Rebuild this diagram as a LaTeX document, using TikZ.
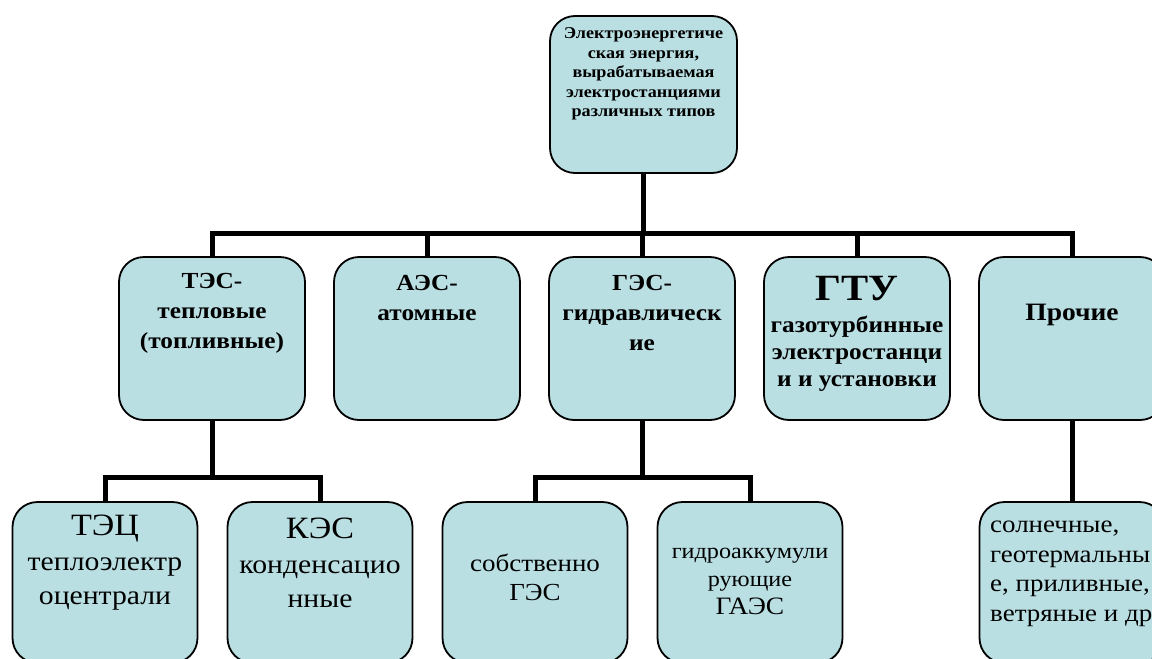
\documentclass[tikz,border=0pt]{standalone}
\usepackage{fontspec}
\setmainfont{Liberation Serif}[FakeStretch=1.1]
\usetikzlibrary{calc}
\definecolor{boxfill}{RGB}{185,223,227}
\tikzset{
  box/.style={draw=black, line width=1.8pt, fill=boxfill, rounded corners=25pt, inner sep=0pt},
  conn/.style={draw=black, line width=5pt},
  txt/.style={align=center, inner sep=0pt},
  bt/.style={font=\bfseries\fontsize{23}{30}\selectfont},
  rt/.style={font=\fontsize{27}{34.5}\selectfont}
}
\begin{document}
\begin{tikzpicture}[x=1pt,y=-1pt]
\useasboundingbox (0,0) rectangle (1152,659);
\clip (0,0) rectangle (1152,659);
% boxes
\node[box, minimum width=187pt, minimum height=157pt] (top) at (643.5,94.5) {};
\foreach \n/\x in {tes/212, aes/427, ges/642, gtu/857, pro/1072}
  \node[box, minimum width=186pt, minimum height=163pt] (\n) at (\x,338.5) {};
\foreach \n/\x in {tec/105, kes/320, sges/535, gaes/750, oth/1072}
  \node[box, minimum width=185pt, minimum height=161pt] (\n) at (\x,582.5) {};
% connectors
\coordinate (bus) at ($(tes.north)+(0,-23)$);
\draw[conn] (top.south) -- (top.south |- bus);
\draw[conn] (tes.north) -- (bus) -| (pro.north);
\draw[conn] (aes.north) -- (aes.north |- bus);
\draw[conn] (ges.north) -- (ges.north |- bus);
\draw[conn] (gtu.north) -- (gtu.north |- bus);
\coordinate (b2) at ($(tec.north)+(0,-24)$);
\coordinate (b3) at ($(sges.north)+(0,-24)$);
\draw[conn] (tes.south) -- (tes.south |- b2);
\draw[conn] (tec.north) -- (b2) -| (kes.north);
\draw[conn] (ges.south) -- (ges.south |- b3);
\draw[conn] (sges.north) -- (b3) -| (gaes.north);
\draw[conn] (pro.south) -- (oth.north);
% texts
\node[txt, font=\bfseries\fontsize{16.5}{19.5}\selectfont] (ttop) at (643.5,74)
  {Электроэнергетиче\\ская энергия,\\вырабатываемая\\электростанциями\\различных типов};
\node[txt, bt] (ttes) at (212,313) {ТЭС-\\тепловые\\(топливные)};
\node[txt, bt] (taes) at (427,298) {АЭС-\\атомные};
\node[txt, bt] (tges) at (642,313) {ГЭС-\\гидравлическ\\ие};
\node[txt, font=\bfseries\fontsize{37}{40}\selectfont] (tgtu1) at (857,289) {ГТУ};
\node[txt, font=\bfseries\fontsize{23}{27}\selectfont] (tgtu2) at (857,354) {газотурбинные\\электростанци\\и и установки};
\node[txt, font=\bfseries\fontsize{25}{30}\selectfont] (tpro) at (1072,315) {Прочие};
\node[txt, rt] (ttec) at (105,563) {{\fontsize{31}{34.5}\selectfont ТЭЦ}\\теплоэлектр\\оцентрали};
\node[txt, rt] (tkes) at (320,563) {{\fontsize{31}{34.5}\selectfont КЭС}\\конденсацио\\нные};
\node[txt, font=\fontsize{24.5}{29}\selectfont] (tsges) at (535,577) {собственно\\ГЭС};
\node[txt, font=\fontsize{22}{28}\selectfont] (tgaes) at (750,581) {гидроаккумули\\рующие\\{\fontsize{25}{28}\selectfont ГАЭС}};
\node[txt, align=left, anchor=west, font=\fontsize{24.5}{29.5}\selectfont] (toth) at (990,574) {солнечные,\\геотермальны\\е, приливные,\\ветряные и др};
\end{tikzpicture}
\end{document}
